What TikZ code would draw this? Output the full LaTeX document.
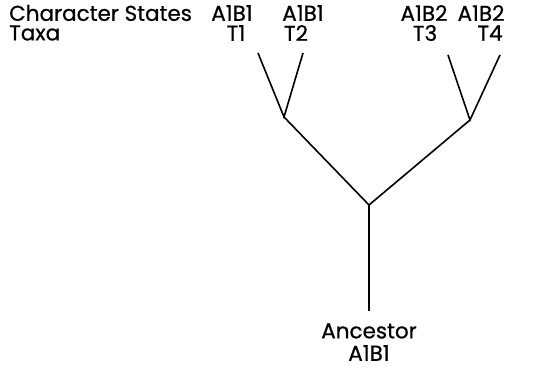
\documentclass[tikz,border=0pt]{standalone}
\usepackage{fontspec}
\setmainfont{Poppins}
\newfontfamily\labfont[FakeBold=0.6]{Poppins}
\begin{document}
\begin{tikzpicture}[x=1pt,y=-1pt,
  lbl/.style={inner sep=0pt,font=\labfont\fontsize{21.5}{22}\selectfont},
  branch/.style={line width=1.6pt}]
\useasboundingbox (0,0) rectangle (544,371);
\node[lbl,anchor=west] (cs) at (9,13) {Character States};
\node[lbl,anchor=west] (tx) at (9,33) {Taxa};
\node[lbl] (s1) at (232,13) {A1B1};
\node[lbl] (s2) at (303,13) {A1B1};
\node[lbl] (s3) at (424,13) {A1B2};
\node[lbl] (s4) at (481,13) {A1B2};
\node[lbl] (t1) at (236,33) {T1};
\node[lbl] (t2) at (296,33) {T2};
\node[lbl] (t3) at (425,33) {T3};
\node[lbl] (t4) at (490,33) {T4};
\coordinate (e1) at (258,53);
\coordinate (e2) at (303,53);
\coordinate (e3) at (448,55);
\coordinate (e4) at (500,55);
\coordinate (j1) at (284,117);
\coordinate (j2) at (470,120);
\coordinate (j0) at (369,205);
\coordinate (r) at (369,311);
\node[lbl] (anc) at (369,331) {Ancestor};
\node[lbl] (ancs) at (369,353) {A1B1};
\draw[branch] (e1) -- (j1) -- (e2);
\draw[branch] (e3) -- (j2) -- (e4);
\draw[branch] (j1) -- (j0) -- (j2);
\draw[branch] (j0) -- (r);
\end{tikzpicture}
\end{document}
